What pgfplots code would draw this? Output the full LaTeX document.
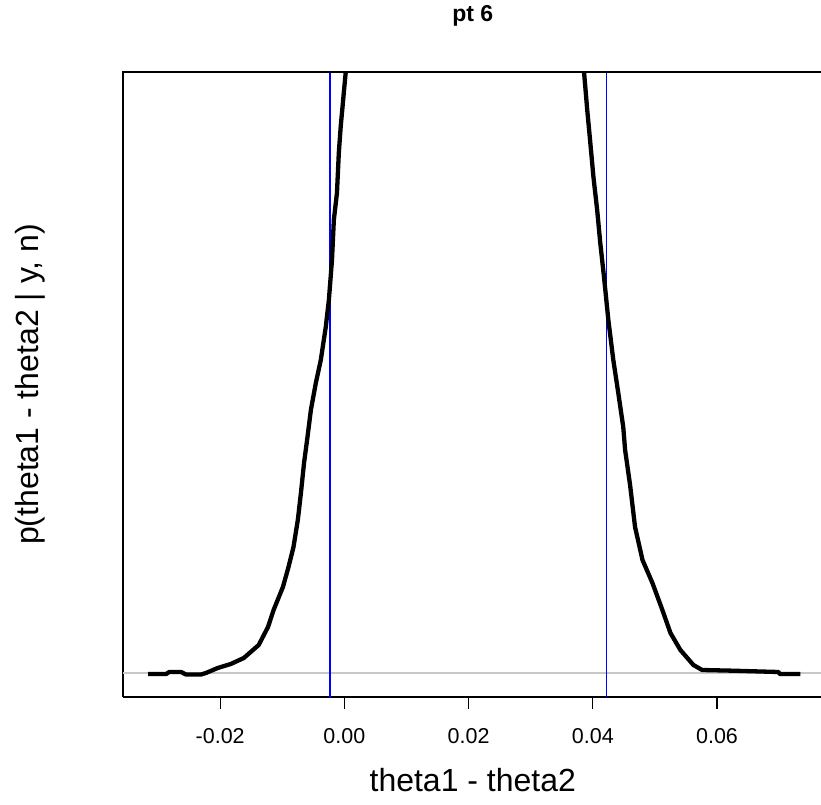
\documentclass[border=0pt]{standalone}
\usepackage{fontspec}
\setmainfont{Liberation Sans}
\usepackage{pgfplots}
\pgfplotsset{compat=1.18}
\begin{document}
\begin{tikzpicture}
\begin{axis}[
  scale only axis, width=699.6bp, height=625bp,
  xmin=-0.03565, xmax=0.0770, ymin=-2.37, ymax=60.13,
  axis x line*=bottom, axis y line*=left,
  x axis line style={-, line width=1.3bp},
  y axis line style={-, line width=1.3bp},
  ytick=\empty,
  xtick={-0.02,0,0.02,0.04,0.06},
  scaled x ticks=false,
  tick align=outside, major tick length=12bp,
  tick style={line width=1.3bp, black},
  /pgf/number format/assume math mode=true,
  xticklabel style={/pgf/number format/.cd, fixed, fixed zerofill, precision=2, /tikz/.cd,
    font=\fontsize{21.5bp}{24bp}\selectfont, anchor=north, inner sep=0pt, yshift=-19bp},
  xlabel={theta1 - theta2},
  xlabel style={at={(axis description cs:0.5,-0.1520)}, anchor=base, inner sep=0pt,
    font=\fontsize{32bp}{36bp}\selectfont},
  ylabel={p(theta1 - theta2 | y, n)},
  ylabel style={at={(axis description cs:-0.1201,0.5)}, anchor=base, rotate=0, inner sep=0pt,
    font=\fontsize{32bp}{36bp}\selectfont},
  title={pt 6},
  title style={at={(axis description cs:0.5,1.0709)}, anchor=base, inner sep=0pt,
    font=\bfseries\fontsize{23bp}{26bp}\selectfont},
  after end axis/.code={\draw[line width=1.3bp, line cap=rect] (rel axis cs:0,1) -- (rel axis cs:1,1);},
]
\addplot[color={rgb,255:red,200;green,200;blue,200}, line width=1.8bp] coordinates {(-0.05,0) (0.09,0)};
\addplot[blue, line width=1.3bp] coordinates {(-0.00231,-5) (-0.00231,70)};
\addplot[blue, line width=1.3bp] coordinates {(0.04215,-5) (0.04215,70)};
\addplot[black, line width=4.3bp, line join=round] coordinates {
(-0.0316,-0.07) (-0.0287,-0.07) (-0.0282,0.13) (-0.0263,0.13) (-0.0255,-0.12) (-0.0231,-0.12)
(-0.0223,0.03) (-0.0204,0.53) (-0.0183,0.93) (-0.0162,1.53) (-0.0138,2.83) (-0.0123,4.63)
(-0.0114,6.33) (-0.0099,8.63) (-0.0090,10.63) (-0.0082,12.63) (-0.0075,15.33) (-0.0070,18.03)
(-0.0065,21.03) (-0.0059,23.83) (-0.0054,26.33) (-0.0046,29.03) (-0.0038,31.33) (-0.0030,34.63)
(-0.0025,37.33) (-0.0020,41.33) (-0.0017,45.33) (-0.0012,48.03) (-0.0009,52.03) (-0.0006,54.63)
(-0.0001,58.03) (0.0002,60.03) (0.0004,61.33) (0.0006,63)
};
\addplot[black, line width=4.3bp, line join=round] coordinates {
(0.0383,63) (0.0385,61.33) (0.0386,60.03) (0.0391,56.33) (0.0396,53.03) (0.0401,49.63)
(0.0407,46.33) (0.0412,43.03) (0.0418,39.63) (0.0425,35.33) (0.0433,31.33) (0.0441,28.03)
(0.0449,24.63) (0.0452,22.33) (0.0460,18.83) (0.0468,14.63) (0.0480,11.33) (0.0496,9.03)
(0.0512,6.33) (0.0525,4.03) (0.0541,2.33) (0.0562,0.83) (0.0576,0.33) (0.0626,0.26)
(0.0670,0.18) (0.0699,0.13) (0.0701,-0.07) (0.0734,-0.07)
};
\end{axis}
\pgfresetboundingbox
\path ([shift={(-123bp,-108bp)}]current axis.south west) rectangle ([shift={(-1.6bp,72bp)}]current axis.north east);
\end{tikzpicture}
\end{document}
